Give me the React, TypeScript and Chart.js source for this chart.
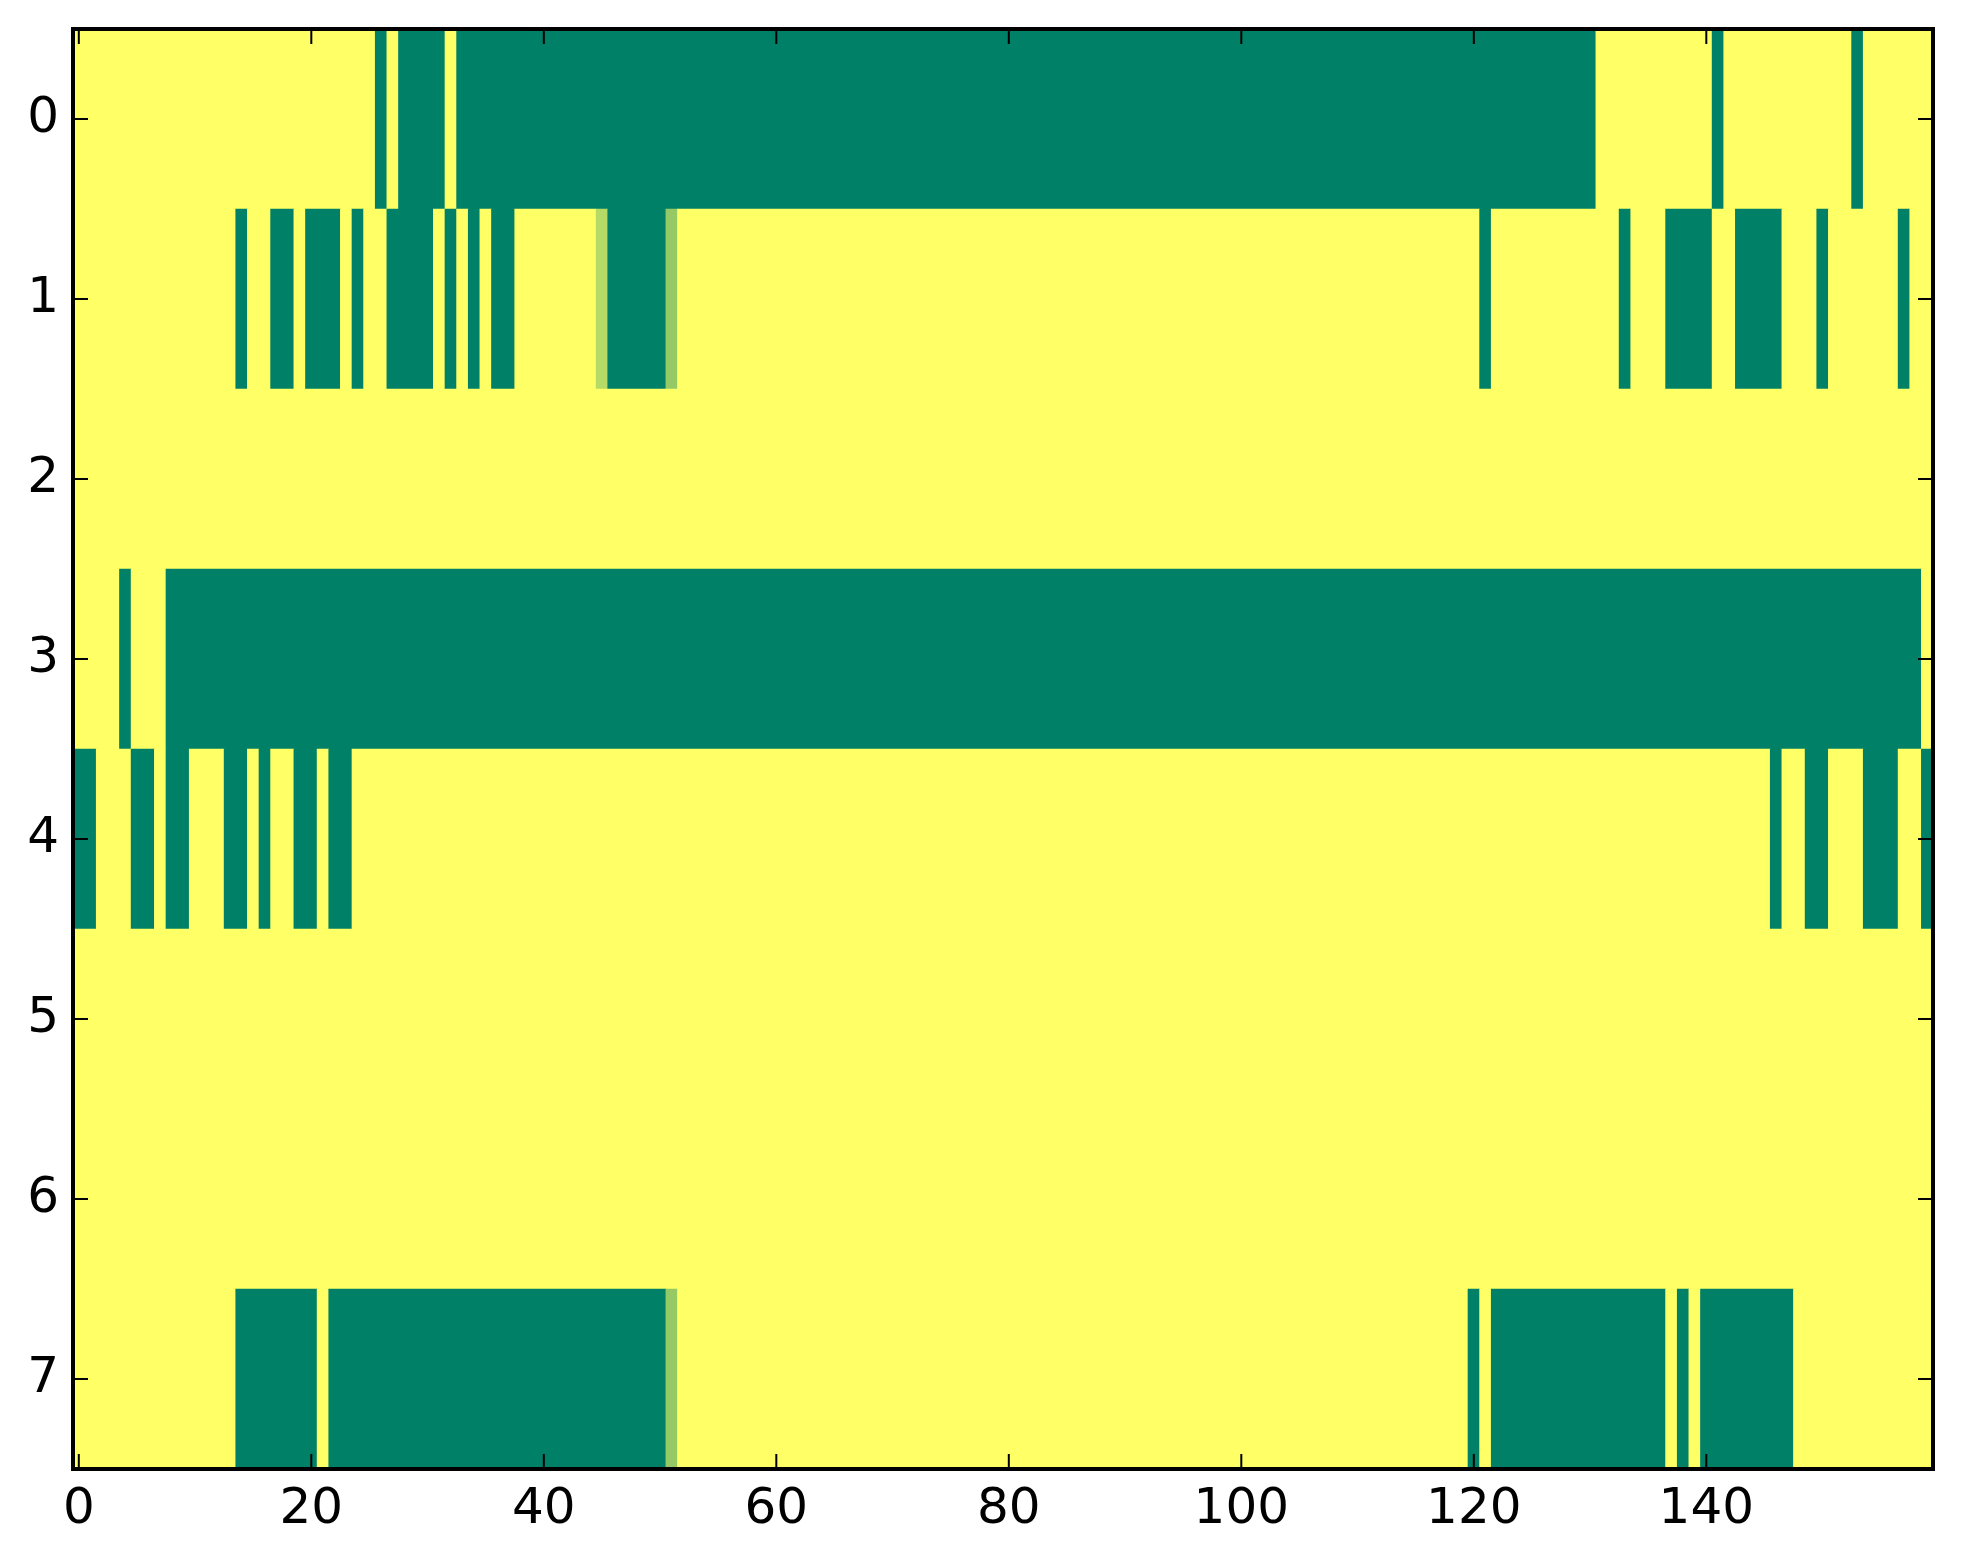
import React, { useEffect, useRef } from "react";
import { Chart, registerables } from "chart.js";

Chart.register(...registerables);

// Each row is a list of runs: [firstColumn, lastColumn, value]
// value 1 = yellow (top of "summer" colormap), 0 = green (bottom)
const row0 = [[0, 25, 1], [26, 26, 0], [27, 27, 1], [28, 31, 0], [32, 32, 1], [33, 130, 0], [131, 140, 1], [141, 141, 0], [142, 152, 1], [153, 153, 0], [154, 159, 1]];
const row1 = [[0, 13, 1], [14, 14, 0], [15, 16, 1], [17, 18, 0], [19, 19, 1], [20, 22, 0], [23, 23, 1], [24, 24, 0], [25, 26, 1], [27, 30, 0], [31, 31, 1], [32, 32, 0], [33, 33, 1], [34, 34, 0], [35, 35, 1], [36, 37, 0], [38, 44, 1], [45, 45, 0.71], [46, 50, 0], [51, 51, 0.58], [52, 120, 1], [121, 121, 0], [122, 132, 1], [133, 133, 0], [134, 136, 1], [137, 140, 0], [141, 142, 1], [143, 146, 0], [147, 149, 1], [150, 150, 0], [151, 156, 1], [157, 157, 0], [158, 159, 1]];
const row2 = [[0, 159, 1]];
const row3 = [[0, 3, 1], [4, 4, 0], [5, 7, 1], [8, 158, 0], [159, 159, 1]];
const row4 = [[0, 1, 0], [2, 4, 1], [5, 6, 0], [7, 7, 1], [8, 9, 0], [10, 12, 1], [13, 14, 0], [15, 15, 1], [16, 16, 0], [17, 18, 1], [19, 20, 0], [21, 21, 1], [22, 23, 0], [24, 145, 1], [146, 146, 0], [147, 148, 1], [149, 150, 0], [151, 153, 1], [154, 156, 0], [157, 158, 1], [159, 159, 0]];
const row5 = [[0, 159, 1]];
const row6 = [[0, 159, 1]];
const row7 = [[0, 13, 1], [14, 20, 0], [21, 21, 1], [22, 50, 0], [51, 51, 0.58], [52, 119, 1], [120, 120, 0], [121, 121, 1], [122, 136, 0], [137, 137, 1], [138, 138, 0], [139, 139, 1], [140, 147, 0], [148, 159, 1]];

const rows = [row0, row1, row2, row3, row4, row5, row6, row7];
const columnCount = 160;
const xTickValues = [0, 20, 40, 60, 80, 100, 120, 140];
const yTickValues = [0, 1, 2, 3, 4, 5, 6, 7];

function summer(v: number): string {
  const r = Math.round(255 * v);
  const g = Math.round(255 * (0.5 + 0.5 * v));
  const b = 102;
  return `rgb(${r},${g},${b})`;
}

const W = 1963;
const H = 1564;

export default function App() {
  const ref = useRef<HTMLCanvasElement | null>(null);

  useEffect(() => {
    document.body.style.margin = "0";
    const canvas = ref.current;
    if (!canvas) return;

    const points: { x: [number, number]; y: number }[] = [];
    const colors: string[] = [];
    rows.forEach((runs, r) => {
      runs.forEach(([a, b, v]) => {
        points.push({ x: [a - 0.5, b + 0.5], y: r });
        colors.push(summer(v));
      });
    });

    const framePlugin = {
      id: "frameTicks",
      afterDraw(chart: any) {
        const { ctx, chartArea } = chart;
        const { left, right, top, bottom } = chartArea;
        const xs = chart.scales.x;
        const ys = chart.scales.y;
        const tl = 15;
        ctx.save();
        ctx.strokeStyle = "#000";
        ctx.lineWidth = 2;
        ctx.beginPath();
        xTickValues.forEach((v) => {
          const px = xs.getPixelForValue(v);
          ctx.moveTo(px, bottom);
          ctx.lineTo(px, bottom - tl);
          ctx.moveTo(px, top);
          ctx.lineTo(px, top + tl);
        });
        yTickValues.forEach((v) => {
          const py = ys.getPixelForValue(v);
          ctx.moveTo(left, py);
          ctx.lineTo(left + tl, py);
          ctx.moveTo(right, py);
          ctx.lineTo(right - tl, py);
        });
        ctx.stroke();
        ctx.lineWidth = 4;
        ctx.strokeRect(left, top, right - left, bottom - top);
        ctx.restore();
      },
    };

    const chart = new Chart(canvas, {
      type: "bar",
      data: {
        datasets: [
          {
            data: points as any,
            backgroundColor: colors,
            borderWidth: 0,
            barPercentage: 1,
            categoryPercentage: 1,
          },
        ],
      },
      options: {
        indexAxis: "y",
        animation: false,
        responsive: false,
        maintainAspectRatio: false,
        devicePixelRatio: 1,
        layout: { padding: { top: 29, right: 30, left: 0, bottom: 0 } },
        plugins: {
          legend: { display: false },
          tooltip: { enabled: false },
        },
        scales: {
          x: {
            type: "linear",
            position: "bottom",
            offset: false,
            min: -0.5,
            max: columnCount - 0.5,
            afterBuildTicks: (scale: any) => {
              scale.ticks = xTickValues.map((v) => ({ value: v }));
            },
            afterFit: (scale: any) => {
              scale.height = 95;
              scale.paddingLeft = 0;
              scale.paddingRight = 0;
              scale.paddingTop = 0;
              scale.paddingBottom = 0;
            },
            grid: { display: false, drawTicks: false },
            border: { display: false },
            ticks: {
              color: "#000",
              padding: 11,
              maxRotation: 0,
              autoSkip: false,
              font: { family: "DejaVu Sans", size: 50 },
              callback: (v: any) => String(v),
            },
          },
          y: {
            type: "linear",
            position: "left",
            offset: false,
            reverse: true,
            min: -0.5,
            max: rows.length - 0.5,
            afterBuildTicks: (scale: any) => {
              scale.ticks = yTickValues.map((v) => ({ value: v }));
            },
            afterFit: (scale: any) => {
              scale.width = 73;
              scale.paddingLeft = 0;
              scale.paddingRight = 0;
              scale.paddingTop = 0;
              scale.paddingBottom = 0;
            },
            grid: { display: false, drawTicks: false },
            border: { display: false },
            ticks: {
              color: "#000",
              padding: 14,
              autoSkip: false,
              font: { family: "DejaVu Sans", size: 50 },
              callback: (v: any) => String(v),
            },
          },
        },
      },
      plugins: [framePlugin],
    });

    return () => chart.destroy();
  }, []);

  return (
    <div style={{ width: W, height: H, background: "#fff" }}>
      <canvas ref={ref} width={W} height={H} style={{ width: W, height: H, display: "block" }} />
    </div>
  );
}
